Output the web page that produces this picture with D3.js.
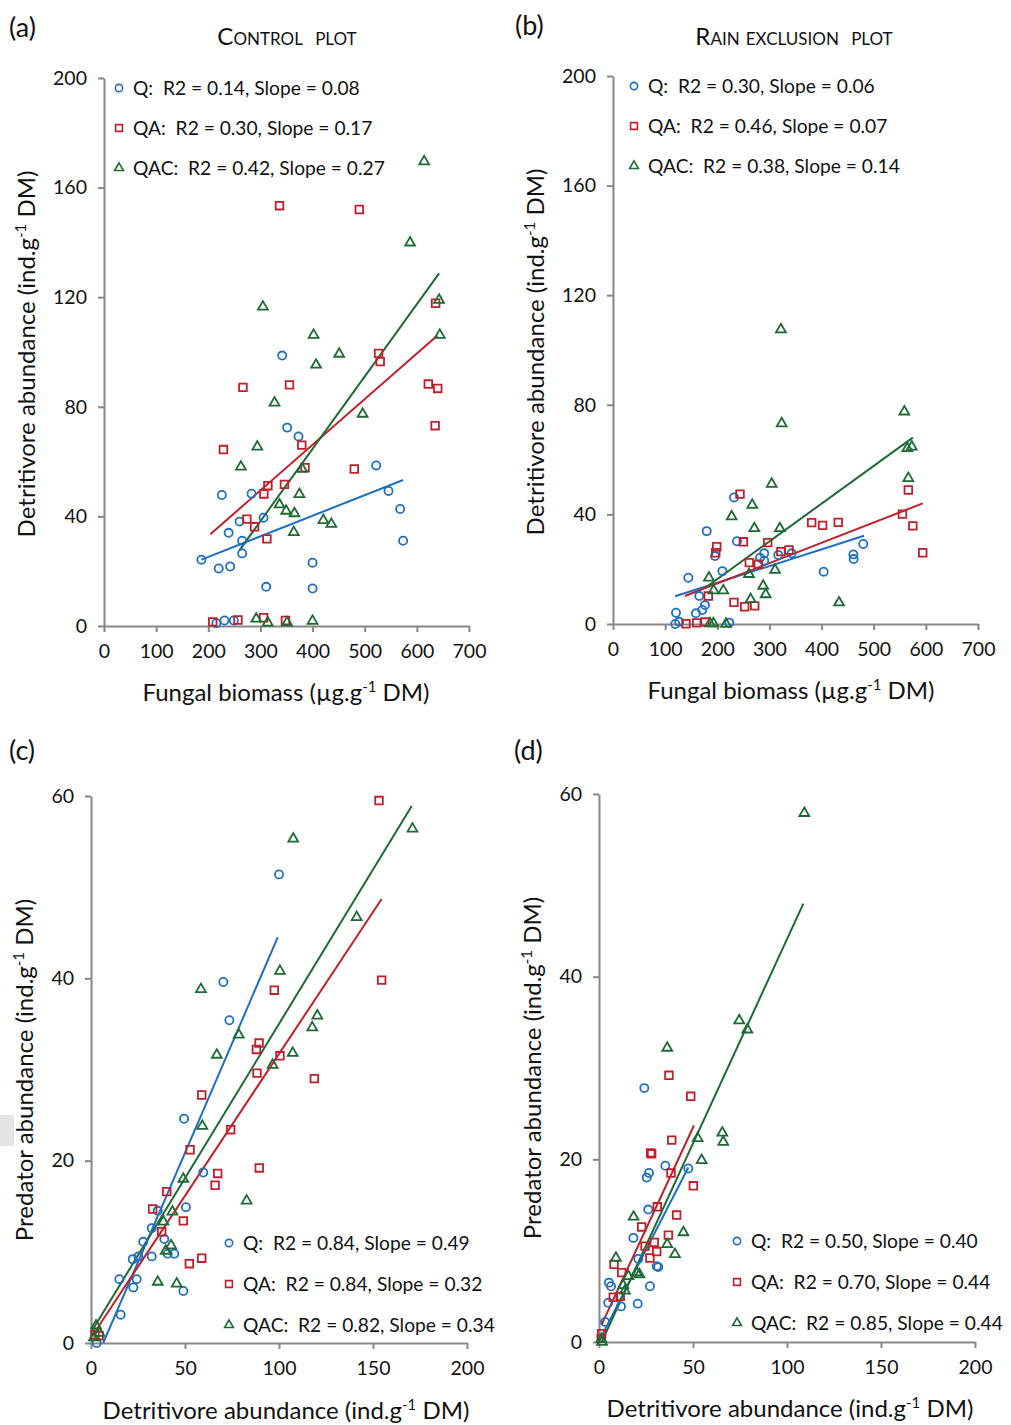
<!DOCTYPE html>
<html>
<head>
<meta charset="utf-8">
<script src="https://cdn.jsdelivr.net/npm/d3@7"></script>
<style>
  body { margin: 0; background: #fff; }
  svg { display: block; font-family: Lato, "Open Sans", sans-serif; }
  text { white-space: pre; }
</style>
</head>
<body>
<svg id="chart" width="1011" height="1425"></svg>
<script>
// colors
var colorQ = "#1f6fc0",
    colorQA = "#c0202a",
    colorQAC = "#1d6b34",
    colorAxis = "#878787";

var seriesNames = ["Q", "QA", "QAC"];

// (a) control plot: fungal biomass vs detritivores
var aQ = [[341.7,98.7],[351.3,72.4],[373,69.2],[522,58.6],[226,47.8],[283,48.3],[545.6,49.3],[568,42.7],[260,38.1],[306,39.5],[239,34],[265,31.1],[573.7,31.1],[265,26.5],[186.8,24.2],[400,23.1],[220,21],[242,21.7],[311,14.3],[400,13.7],[215.5,1],[231,2],[249,2]];
var aQA = [[336.6,153.4],[489.6,152],[636,117.8],[526.6,99.5],[529.7,96.5],[266.5,87.1],[355.7,88],[622,88.3],[640,86.7],[635,73.1],[379.3,66],[229,64.4],[385.5,57.8],[480,57.3],[314.3,51.2],[346,51.7],[306.6,48.2],[274,39],[288.8,36.2],[312.4,31.8],[208.5,1.5],[257,2.2],[306,3],[348,2]];
var aQAC = [[614,169.5],[587,139.9],[642.6,119],[304.7,116.5],[402,106.2],[644,106.2],[451,99.3],[406.7,95.3],[327,81.5],[496,77.4],[294,65.4],[262.6,58.1],[380,57.3],[374.8,48.1],[336.6,44.3],[349.3,42],[365.3,41.1],[420.7,38.6],[436,37.2],[364,34.2],[292,2.6],[314,1.2],[351,1.3],[400,1.8]];
var aFits = [[[186.8,24.2],[573.7,53.3]], [[204,33.5],[639.4,106]], [[260,27.7],[642.6,128.7]]];
var aLegend = ["Q:  R2 = 0.14, Slope = 0.08", "QA:  R2 = 0.30, Slope = 0.17", "QAC:  R2 = 0.42, Slope = 0.27"];

// (b) rain exclusion plot
var bQ = [[232,46.2],[179.7,33.9],[237.8,30.2],[195.6,24.8],[290,25.8],[282,24.2],[290,23.1],[317,25.2],[342.7,25.8],[461,25.4],[461.5,23.7],[480,29.2],[209.7,19.3],[404,19.1],[144.5,16.9],[165.5,10.2],[176.4,6.9],[171.3,5.1],[159,3.9],[120.8,4.1],[119.5,0],[127,0.8],[223,0.5]];
var bQA = [[566.4,48.9],[243.6,47.4],[555,40.1],[575,35.8],[381,37],[402,36],[432,37.1],[250,30],[296.7,29.7],[199,28.2],[197,26],[594,26],[322,26.4],[337.5,27],[261.4,22.4],[278.7,21.8],[182.8,10.2],[232,7.9],[252.6,6.3],[271.8,6.6],[140,0.1],[160.5,0.4],[176.5,0.7]];
var bQAC = [[322,107.5],[558.7,77.5],[323.5,73.2],[564.5,64.1],[573,64.7],[566.4,53.2],[304.3,51.1],[267,43.4],[227.6,39.2],[271,34.9],[320,34.9],[260.8,18.2],[310.7,19.7],[184,16.9],[193,12.2],[211.6,12.2],[288,13.9],[292.8,10.8],[264,9],[433.5,7.8],[186,0.2],[192.5,0.2],[216.7,0]];
var bFits = [[[119,10.1],[481.4,32.2]], [[138,10.2],[594,44]], [[179.7,13.6],[575,68]]];
var bLegend = ["Q:  R2 = 0.30, Slope = 0.06", "QA:  R2 = 0.46, Slope = 0.07", "QAC:  R2 = 0.38, Slope = 0.14"];

// (c) control plot: detritivores vs predators
var cQ = [[100,51.4],[70.4,39.6],[73.6,35.4],[49.5,24.6],[59.7,18.7],[35.5,14.5],[50.5,14.9],[32.3,12.6],[39,11.4],[27.8,11.1],[40.8,9.8],[44.3,9.8],[25.2,9.5],[22.2,9.2],[32.3,9.5],[15.1,7],[24.3,7],[22.5,6.1],[49.1,5.7],[15.8,3.1],[3,0]];
var cQA = [[153.2,59.5],[154.6,39.8],[97.5,38.7],[89.4,32.9],[88,32.2],[100.5,31.5],[88.3,29.6],[118.8,29],[58.9,27.2],[74.3,23.4],[52.7,21.2],[67.4,18.6],[66,17.3],[89.5,19.2],[40.3,16.6],[32.8,14.7],[49.1,13.4],[37.6,12.2],[58.9,9.3],[52.3,8.7],[4.3,0.8],[2.1,0.9]];
var cQAC = [[171,56.4],[107.6,55.3],[141.3,46.7],[100.5,40.8],[58.5,38.8],[120.4,35.9],[117.7,34.6],[78.6,33.8],[107.3,31.8],[66.9,31.6],[96.6,30.5],[59.2,23.8],[49.1,18],[82.8,15.6],[43.3,14.4],[38.5,13.3],[42.6,10.7],[39.7,10.1],[35.5,6.7],[45.6,6.5],[2.7,1.9],[4.4,1.1],[1.6,0.6]];
var cFits = [[[6.5,0],[99.3,44.5]], [[0.7,0.8],[154.6,48.7]], [[0.7,1.4],[170.6,58.9]]];
var cLegend = ["Q:  R2 = 0.84, Slope = 0.49", "QA:  R2 = 0.84, Slope = 0.32", "QAC:  R2 = 0.82, Slope = 0.34"];

// (d) rain exclusion plot
var dQ = [[24.1,27.8],[35.3,19.3],[26.6,18.5],[25.4,18],[47.5,19],[26.2,14.5],[18.3,11.4],[20.9,9.1],[30.7,8.3],[31.5,8.2],[5.3,6.5],[6.4,6.1],[27.1,6.1],[4.9,4.3],[11.7,3.9],[20.6,4.2],[3.2,2.2]];
var dQA = [[37.2,29.2],[48.8,26.9],[38.7,22.1],[27.5,20.7],[28,20.6],[38.3,18.5],[50.2,17.1],[31,14.8],[41.3,13.9],[22.7,12.6],[36.9,11.7],[29.4,10.9],[24.5,10.5],[30.7,9.9],[27.1,9.2],[8,8.5],[12.1,7.6],[7.6,4.9],[11.3,5],[1.4,0.9],[1.2,0.4]];
var dQAC = [[109.2,57.9],[74.6,35.2],[78.9,34.2],[36.3,32.2],[52.5,22.3],[65.6,22.9],[66.1,21.9],[54.6,19.9],[18.4,13.7],[44.9,12],[36.3,10.7],[40.4,9.6],[9,9.2],[20,7.6],[21.5,7.4],[15.6,7.2],[12.9,6.2],[13.8,5.6],[1.3,0.3],[1.6,0]];
var dFits = [[[1.5,0.7],[47.5,19.1]], [[1.4,1.9],[50.5,23.7]], [[1.4,0],[108.7,48]]];
var dLegend = ["Q:  R2 = 0.50, Slope = 0.40", "QA:  R2 = 0.70, Slope = 0.44", "QAC:  R2 = 0.85, Slope = 0.44"];

// ticks
var fungalTicks = [0, 100, 200, 300, 400, 500, 600, 700],
    detTicks = [0, 40, 80, 120, 160, 200],
    detXTicks = [0, 50, 100, 150, 200],
    predTicks = [0, 20, 40, 60];

var svg = d3.select("#chart"),
    colors = [colorQ, colorQA, colorQAC],
    shapes = [d3.symbolCircle, d3.symbolSquare, d3.symbolTriangle],
    sizes = [52, 58, 42];

// stray grey box at the left edge of the scan
svg.append("rect").attr("x", 0).attr("y", 1115).attr("width", 14).attr("height", 31).attr("fill", "#e4e4e4");

function panel(p) {
  var x = d3.scaleLinear().domain(p.xDomain).range([p.left, p.right]),
      y = d3.scaleLinear().domain(p.yDomain).range([p.bottom, p.top]);

  var g = svg.append("g");

  var xAxis = g.append("g")
      .attr("transform", "translate(0," + p.bottom + ")")
      .call(d3.axisBottom(x).tickValues(p.xTicks).tickSize(6).tickSizeOuter(0).tickPadding(12));
  var yAxis = g.append("g")
      .attr("transform", "translate(" + p.left + ",0)")
      .call(d3.axisLeft(y).tickValues(p.yTicks).tickSize(6).tickSizeOuter(0).tickPadding(11));

  [xAxis, yAxis].forEach(function(a) {
    a.selectAll("path, line").attr("stroke", colorAxis).attr("stroke-width", 2);
    a.selectAll("text").attr("fill", "#111").style("font-size", "19.5px").style("font-family", "Lato");
  });

  // fit lines
  var line = d3.line().x(function(d) { return x(d[0]); }).y(function(d) { return y(d[1]); });
  p.fits.forEach(function(f, i) {
    g.append("path").attr("d", line(f)).attr("fill", "none")
      .attr("stroke", colors[i]).attr("stroke-width", 2);
  });

  // points
  p.series.forEach(function(s, i) {
    g.selectAll(null).data(s).enter().append("path")
      .attr("d", d3.symbol().type(shapes[i]).size(sizes[i]))
      .attr("transform", function(d) { return "translate(" + x(d[0]) + "," + y(d[1]) + ")"; })
      .attr("fill", "none")
      .attr("stroke", colors[i])
      .attr("stroke-width", 1.8);
  });

  // legend
  p.legend.forEach(function(t, i) {
    var ly = p.legendY + i * p.legendStep;
    g.append("path")
      .attr("d", d3.symbol().type(shapes[i]).size(sizes[i] * 0.8))
      .attr("transform", "translate(" + p.legendX + "," + ly + ")")
      .attr("fill", "none").attr("stroke", colors[i]).attr("stroke-width", 1.6);
    g.append("text").attr("x", p.legendX + 14).attr("y", ly + 7)
      .style("font-size", "19.2px").attr("fill", "#111").text(t);
  });

  // axis titles
  var xt = g.append("text").attr("x", p.xTitleX).attr("y", p.xTitleY)
      .attr("text-anchor", "middle").style("font-size", "24px").attr("fill", "#111");
  xt.append("tspan").text(p.xTitle[0]);
  xt.append("tspan").attr("dy", -9).style("font-size", "15px").text("-1");
  xt.append("tspan").attr("dy", 9).text(" DM)");

  var yt = g.append("text")
      .attr("transform", "translate(" + p.yTitleX + "," + p.yTitleY + ") rotate(-90)")
      .attr("text-anchor", "middle").style("font-size", "24px").attr("fill", "#111");
  yt.append("tspan").text(p.yTitle);
  yt.append("tspan").attr("dy", -9).style("font-size", "15px").text("-1");
  yt.append("tspan").attr("dy", 9).text(" DM)");

  // panel letter and heading
  g.append("text").attr("x", p.tagX).attr("y", p.tagY).style("font-size", "27px").attr("fill", "#111").text(p.tag);
  if (p.heading) {
    g.append("text").attr("x", p.headX).attr("y", 45).attr("text-anchor", "middle")
      .style("font-size", "24px").style("font-variant", "small-caps").attr("fill", "#111").text(p.heading);
  }
}

panel({
  left: 104, right: 469, top: 78, bottom: 626,
  xDomain: [0, 700], yDomain: [0, 200], xTicks: fungalTicks, yTicks: detTicks,
  series: [aQ, aQA, aQAC], fits: aFits, legend: aLegend,
  legendX: 119, legendY: 88, legendStep: 40,
  xTitle: ["Fungal biomass (\u00b5g.g"], xTitleX: 286, xTitleY: 701,
  yTitle: "Detritivore abundance (ind.g", yTitleX: 35, yTitleY: 354,
  tag: "(a)", tagX: 9, tagY: 37, heading: "Control  plot", headX: 287
});

panel({
  left: 613, right: 978, top: 76, bottom: 624,
  xDomain: [0, 700], yDomain: [0, 200], xTicks: fungalTicks, yTicks: detTicks,
  series: [bQ, bQA, bQAC], fits: bFits, legend: bLegend,
  legendX: 634, legendY: 86, legendStep: 40,
  xTitle: ["Fungal biomass (\u00b5g.g"], xTitleX: 791, xTitleY: 699,
  yTitle: "Detritivore abundance (ind.g", yTitleX: 544, yTitleY: 352,
  tag: "(b)", tagX: 515, tagY: 35, heading: "Rain exclusion  plot", headX: 794
});

panel({
  left: 91, right: 467, top: 796, bottom: 1343,
  xDomain: [0, 200], yDomain: [0, 60], xTicks: detXTicks, yTicks: predTicks,
  series: [cQ, cQA, cQAC], fits: cFits, legend: cLegend,
  legendX: 229, legendY: 1243, legendStep: 41,
  xTitle: ["Detritivore abundance (ind.g"], xTitleX: 286, xTitleY: 1419,
  yTitle: "Predator abundance (ind.g", yTitleX: 33, yTitleY: 1070,
  tag: "(c)", tagX: 9, tagY: 760
});

panel({
  left: 599, right: 975, top: 794, bottom: 1342,
  xDomain: [0, 200], yDomain: [0, 60], xTicks: detXTicks, yTicks: predTicks,
  series: [dQ, dQA, dQAC], fits: dFits, legend: dLegend,
  legendX: 737, legendY: 1241, legendStep: 41,
  xTitle: ["Detritivore abundance (ind.g"], xTitleX: 790, xTitleY: 1417,
  yTitle: "Predator abundance (ind.g", yTitleX: 541, yTitleY: 1068,
  tag: "(d)", tagX: 514, tagY: 760
});
</script>
</body>
</html>
